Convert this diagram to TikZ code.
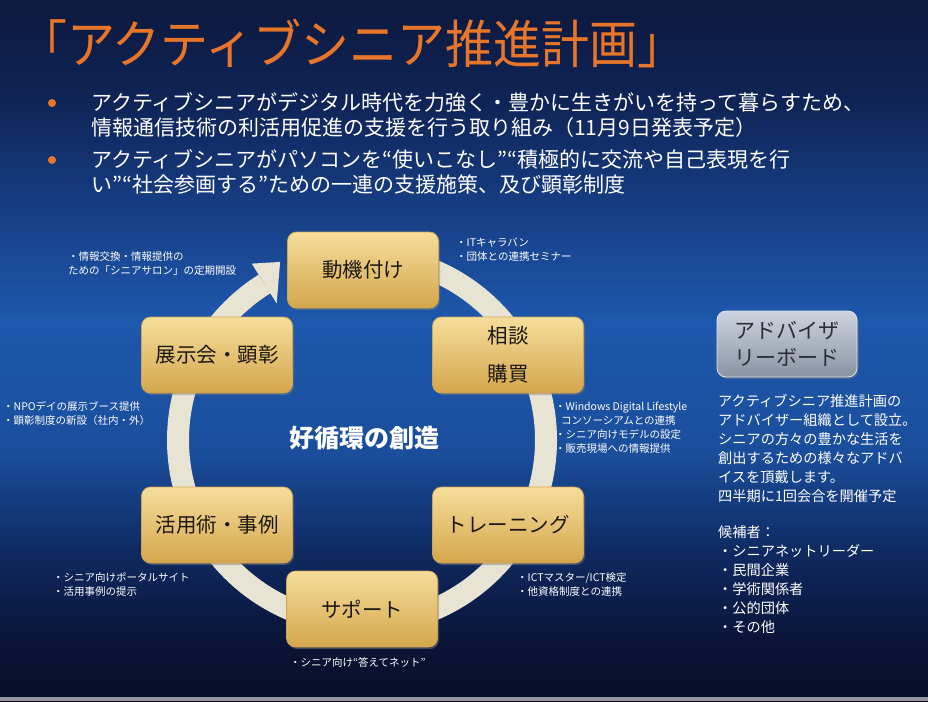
\documentclass[tikz,border=0pt]{standalone}
\usepackage{fontspec}
\usepackage{graphicx}
\newfontfamily\jp{Noto Sans CJK JP}
\usetikzlibrary{shadows}

\definecolor{ttl}{RGB}{232,118,42}
\definecolor{bg0}{RGB}{8,14,40}
\definecolor{bg1}{RGB}{10,20,55}
\definecolor{bg2}{RGB}{15,42,98}
\definecolor{bg3}{RGB}{26,78,156}
\definecolor{bg4}{RGB}{30,88,172}
\definecolor{bg5}{RGB}{22,60,130}
\definecolor{bg6}{RGB}{15,36,86}
\definecolor{bg7}{RGB}{13,25,62}
\definecolor{ringc}{RGB}{232,228,212}
\definecolor{gold1}{RGB}{245,222,155}
\definecolor{gold2}{RGB}{212,166,76}
\definecolor{goldedge}{RGB}{205,165,85}
\definecolor{boxtext}{RGB}{28,24,18}
\definecolor{adv1}{RGB}{206,212,222}
\definecolor{adv2}{RGB}{136,147,163}
\definecolor{advedge}{RGB}{222,228,236}
\definecolor{advtext}{RGB}{45,45,52}
\definecolor{stripc}{RGB}{150,150,160}

\pgfdeclareverticalshading{bgshade}{100bp}{%
  color(0bp)=(bg0); color(25bp)=(bg0); color(29.28bp)=(bg1);
  color(35.70bp)=(bg2); color(42.83bp)=(bg3); color(52.10bp)=(bg4);
  color(60.66bp)=(bg5); color(67.80bp)=(bg6); color(75bp)=(bg7);
  color(100bp)=(bg7)}

\tikzset{
  goldbox/.style={rounded corners=9pt, minimum width=151pt, minimum height=76pt,
    top color=gold1, bottom color=gold2, draw=goldedge, line width=0.8pt,
    drop shadow={opacity=0.45, shadow xshift=1.5pt, shadow yshift=-2pt},
    font=\jp\fontsize{20.5}{38}\selectfont, text=boxtext, align=center, inner sep=2pt},
  advbox/.style={rounded corners=9pt, minimum width=140pt, minimum height=66pt,
    top color=adv1, bottom color=adv2, draw=advedge, line width=0.8pt,
    drop shadow={opacity=0.45, shadow xshift=1.5pt, shadow yshift=-2pt},
    font=\jp\fontsize{21}{27}\selectfont, text=advtext, align=left, inner sep=2pt},
  note/.style={text=white, font=\jp\fontsize{10.5}{14}\selectfont, align=left,
    anchor=north west, inner sep=0pt},
  bultext/.style={text=white, font=\jp\fontsize{21}{24.5}\selectfont, align=left,
    anchor=north west, inner sep=0pt},
  paneltext/.style={text=white, font=\jp\fontsize{14.2}{19}\selectfont, align=left,
    anchor=north west, inner sep=0pt},
  ring/.style={draw=ringc, line width=22pt},
  bulletdot/.style={circle, fill=ttl, minimum size=8pt, inner sep=0pt}
}

\begin{document}
\begin{tikzpicture}[x=1pt,y=1pt]
\useasboundingbox (0,0) rectangle (928,-701);
\shade[shading=bgshade] (0,0) rectangle (928,-701);
\fill[stripc] (0,-697) rectangle (928,-701);

% title
\node[anchor=west, inner sep=0pt, text=ttl, font=\jp\fontsize{48}{54}\selectfont] (title) at (19,-44)
  {\scalebox{1}[1.08]{「アクティブシニア推進計画」}};

% bullets
\node[bulletdot] (b1) at (52,-103) {};
\node[bulletdot] (b2) at (52,-160) {};
\node[bultext] (t1) at (91,-92.5) {アクティブシニアがデジタル時代を力強く・豊かに生きがいを持って暮らすため、\\情報通信技術の利活用促進の支援を行う取り組み（11月9日発表予定）};
\node[bultext] (t2) at (91,-149.5) {アクティブシニアがパソコンを“使いこなし”“積極的に交流や自己表現を行\\い”“社会参画する”ための一連の支援施策、及び顕彰制度};

% ring with arrow
\coordinate (rc) at (362,-440);
\draw[ring] (rc) ++(90:184) arc[start angle=90, end angle=-238, radius=184];
\fill[ringc] ([shift={(122:161)}]rc) -- ([shift={(114.7:196)}]rc) -- ([shift={(122:208)}]rc) -- cycle;

% boxes
\node[goldbox] (mot) at (363,-270) {動機付け};
\node[goldbox] (sou) at (508,-355) {相談\\購買};
\node[goldbox] (ten) at (217,-355) {展示会・顕彰};
\node[goldbox] (kat) at (217,-525) {活用術・事例};
\node[goldbox] (tre) at (508,-525) {トレーニング};
\node[goldbox] (sup) at (362,-609) {サポート};

\node[text=white, font=\jp\bfseries\fontsize{25}{30}\selectfont, inner sep=0pt] (center) at (364,-438) {好循環の創造};

% notes
\node[note] (nsalon) at (68,-251.5) {・情報交換・情報提供の\\ための「シニアサロン」の定期開設};
\node[note] (nit) at (456,-237.5) {・ITキャラバン\\・団体との連携セミナー};
\node[note] (nnpo) at (3,-401.5) {・NPOデイの展示ブース提供\\・顕彰制度の新設（社内・外）};
\node[note] (nwin) at (555,-401.5) {・Windows Digital Lifestyle\\\hspace*{6pt}コンソーシアムとの連携\\・シニア向けモデルの設定\\・販売現場への情報提供};
\node[note] (nportal) at (53,-572.5) {・シニア向けポータルサイト\\・活用事例の提示};
\node[note] (nict) at (517,-572.5) {・ICTマスター/ICT検定\\・他資格制度との連携};
\node[note] (nnet) at (290,-657.5) {・シニア向け“答えてネット”};

% advisory board
\node[advbox] (adv) at (787,-344) {アドバイザ\\リーボード};
\node[paneltext] (panel) at (718,-394.5) {アクティブシニア推進計画の\\アドバイザー組織として設立。\\シニアの方々の豊かな生活を\\創出するための様々なアドバ\\イスを頂戴します。\\四半期に1回会合を開催予定\\[17pt]候補者：\\・シニアネットリーダー\\・民間企業\\・学術関係者\\・公的団体\\・その他};
\end{tikzpicture}
\end{document}
